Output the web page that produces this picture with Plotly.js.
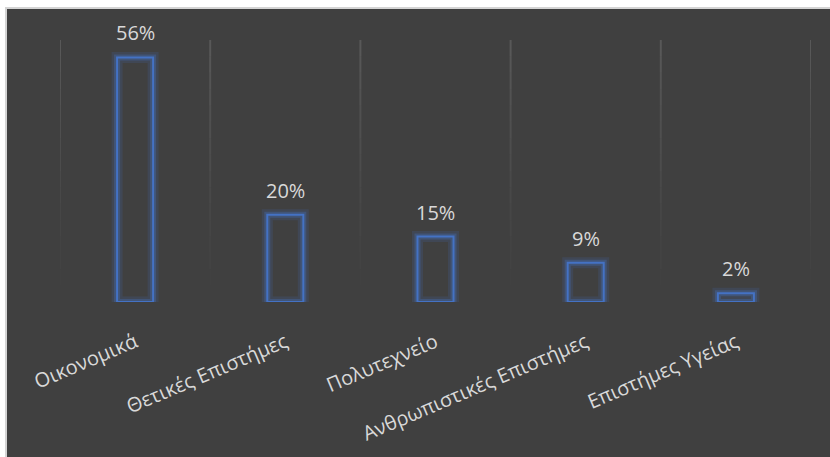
<!DOCTYPE html>
<html>
<head>
<meta charset="utf-8">
<script src="https://cdn.plot.ly/plotly-3.0.1.min.js"></script>
<style>
  html, body { margin: 0; padding: 0; background: #ffffff; width: 830px; height: 457px; overflow: hidden; }
  #frame { position: absolute; left: 5px; top: 7px; border-left: 2px solid #d4d4d4; border-top: 2px solid #d4d4d4; width: 823px; height: 448px; }
  #chart { width: 823px; height: 448px; }
</style>
</head>
<body>
<div id="frame"><div id="chart"></div></div>
<script>
const categories = ["Οικονομικά", "Θετικές Επιστήμες", "Πολυτεχνείο", "Ανθρωπιστικές Επιστήμες", "Επιστήμες Υγείας"];
const percentages = [56, 20, 15, 9, 2];
const valueLabels = ["56%", "20%", "15%", "9%", "2%"];
const yMax = 60;

const FONT = "Open Sans, Noto Sans, DejaVu Sans, sans-serif";
const BLUE = "#4472c4";

const glowOuter = {
  type: "bar", x: categories, y: percentages,
  marker: { color: "rgba(0,0,0,0)", line: { color: "rgba(68,114,196,0.16)", width: 11 } },
  hoverinfo: "skip", showlegend: false, cliponaxis: false
};
const glowInner = {
  type: "bar", x: categories, y: percentages,
  marker: { color: "rgba(0,0,0,0)", line: { color: "rgba(68,114,196,0.32)", width: 6 } },
  hoverinfo: "skip", showlegend: false, cliponaxis: false
};
const main = {
  type: "bar", x: categories, y: percentages,
  marker: { color: "rgba(0,0,0,0)", line: { color: BLUE, width: 2 } },
  cliponaxis: false, showlegend: false
};

const annotations = categories.map((c, i) => ({
  x: c, y: percentages[i], xref: "x", yref: "y",
  text: valueLabels[i], showarrow: false,
  yanchor: "bottom", yshift: 9,
  font: { family: FONT, size: 20, color: "#d9d9d9" }
}));

// gradient vertical gridlines at category boundaries
const shapes = [];
const N = 16;
for (let i = 0; i <= categories.length; i++) {
  for (let k = 0; k < N; k++) {
    const y0 = yMax * k / N, y1 = yMax * (k + 1) / N;
    const a = 0.13 * Math.pow((k + 0.5) / N, 1.2);
    shapes.push({
      type: "line", xref: "x", yref: "y", layer: "below",
      x0: i - 0.5, x1: i - 0.5, y0: y0, y1: y1,
      line: { color: "rgba(255,255,255," + a.toFixed(3) + ")", width: 2 }
    });
  }
}

const layout = {
  width: 823, height: 448,
  paper_bgcolor: "#404040", plot_bgcolor: "#404040",
  margin: { l: 53, r: 19, t: 31, b: 155 },
  barmode: "overlay",
  bargap: 0.76,
  showlegend: false,
  shapes: shapes,
  annotations: annotations,
  xaxis: {
    type: "category", showgrid: false, zeroline: false, showline: false,
    ticks: "", tickangle: -23, automargin: false, ticklabelstandoff: 24,
    tickfont: { family: FONT, size: 20, color: "#d9d9d9" },
    range: [-0.5, categories.length - 0.5]
  },
  yaxis: {
    range: [0, yMax], showgrid: false, zeroline: false, showline: false,
    showticklabels: false, ticks: "", automargin: false
  }
};

Plotly.newPlot("chart", [glowOuter, glowInner, main], layout, { staticPlot: true, displayModeBar: false });
</script>
</body>
</html>
